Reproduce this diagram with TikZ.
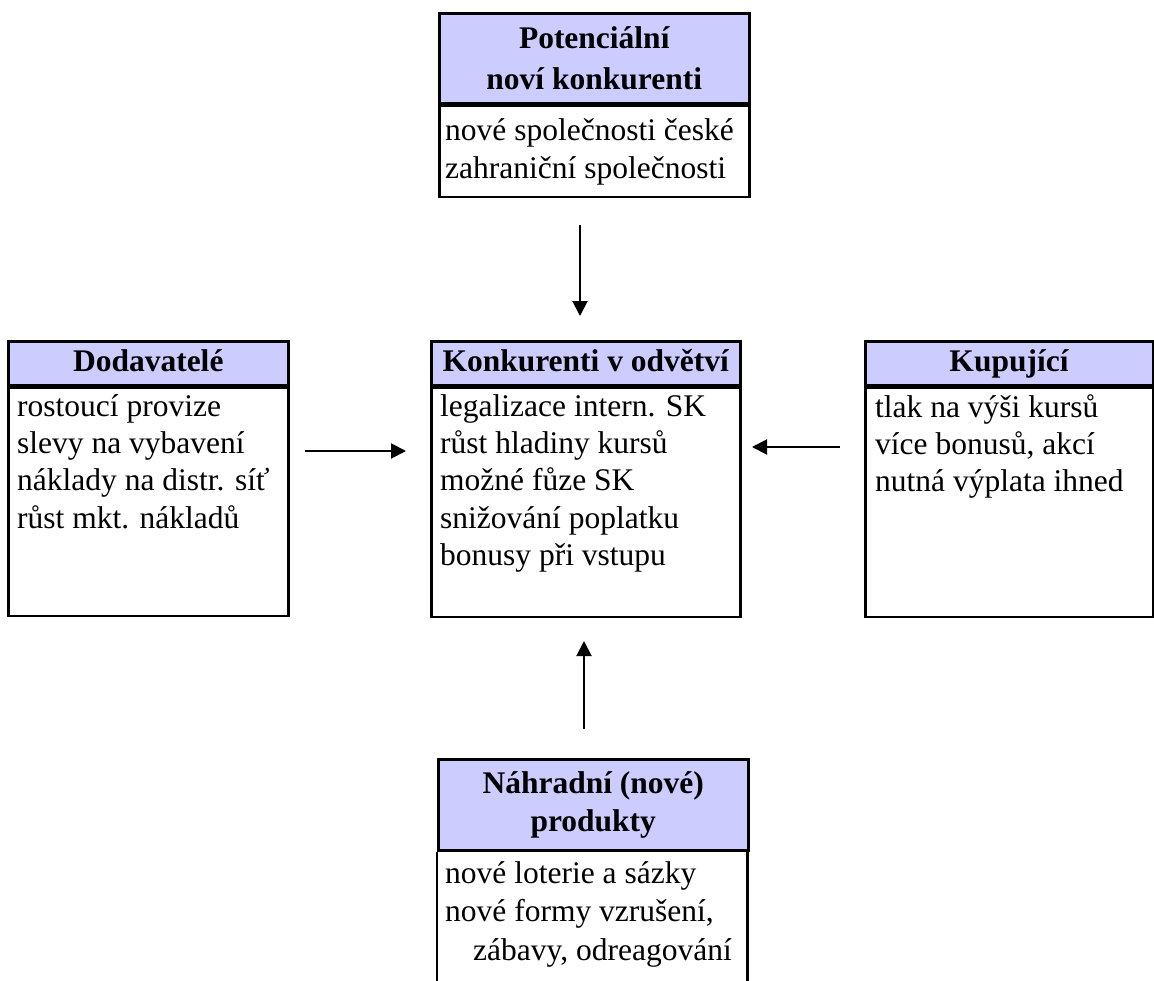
\documentclass[tikz,border=0pt]{standalone}
\usepackage{fontspec}
\setmainfont{Liberation Serif}
\usetikzlibrary{arrows.meta}
\definecolor{headblue}{RGB}{204,204,255}
\newcommand{\firstln}{\rule{0pt}{22pt}}
\begin{document}
\begin{tikzpicture}[x=1pt,y=-1pt,
  boxline/.style={line width=2.5pt},
  headbox/.style={draw, boxline, fill=headblue, anchor=north west, inner sep=0pt,
    align=center, font=\bfseries\fontsize{31.5}{40}\selectfont},
  onehead/.style={headbox, text height=21pt, text depth=4pt},
  bodybox/.style={draw, boxline, anchor=north west, inner sep=0pt},
  bodytext/.style={anchor=north west, inner sep=0pt, align=left,
    font=\fontsize{31.5}{37.3}\selectfont},
  arr/.style={line width=2pt, -{Triangle[length=15pt,width=15pt]}}]
\useasboundingbox (0,0) rectangle (1154,980);

% top box
\node[headbox, minimum width=310pt, minimum height=90pt, font=\bfseries\fontsize{31.5}{41}\selectfont] (topH) at (438,12) {Potenciální\\noví konkurenti};
\node[bodybox, minimum width=310pt, minimum height=91pt] (topB) at (topH.south west) {};
\node[bodytext, font=\fontsize{31.5}{38.5}\selectfont] (topT) at (445,118) {\firstln nové společnosti české\\zahraniční společnosti};

% left box
\node[onehead, minimum width=280pt, minimum height=44pt] (leftH) at (7,340) {Dodavatelé};
\node[bodybox, minimum width=280pt, minimum height=228pt] (leftB) at (leftH.south west) {};
\node[bodytext] (leftT) at (17,394) {\firstln rostoucí provize\\slevy na vybavení\\náklady na distr. síť\\růst mkt. nákladů};

% center box
\node[onehead, minimum width=309pt, minimum height=44pt] (cenH) at (430,340) {Konkurenti v odvětví};
\node[bodybox, minimum width=309pt, minimum height=229pt] (cenB) at (cenH.south west) {};
\node[bodytext] (cenT) at (440,394) {\firstln legalizace intern. SK\\růst hladiny kursů\\možné fůze SK\\snižování poplatku\\bonusy při vstupu};

% right box
\node[onehead, minimum width=287.5pt, minimum height=44pt] (rightH) at (864,340) {Kupující};
\node[bodybox, minimum width=287.5pt, minimum height=229pt] (rightB) at (rightH.south west) {};
\node[bodytext] (rightT) at (875,394) {\firstln tlak na výši kursů\\více bonusů, akcí\\nutná výplata ihned};

% bottom box
\node[headbox, minimum width=310pt, minimum height=91pt, font=\bfseries\fontsize{31.5}{38}\selectfont] (botH) at (437,758) {Náhradní (nové)\\produkty};
\node[anchor=north west, inner sep=0pt, minimum width=310pt, minimum height=131pt] (botB) at (botH.south west) {};
\draw[boxline] (botB.north west) -- (botB.south west);
\draw[boxline] (botB.north east) -- (botB.south east);
\node[bodytext, font=\fontsize{31.5}{38.5}\selectfont] (botT) at (445,861) {\firstln nové loterie a sázky\\nové formy vzrušení,\\\hspace*{28pt}zábavy, odreagování};

% arrows
\coordinate (a1s) at (580,225); \coordinate (a1e) at (580,316);
\coordinate (a2s) at (305,451); \coordinate (a2e) at (406,451);
\coordinate (a3s) at (840,447); \coordinate (a3e) at (752,447);
\coordinate (a4s) at (584,729); \coordinate (a4e) at (584,641);
\draw[arr] (a1s) -- (a1e);
\draw[arr] (a2s) -- (a2e);
\draw[arr] (a3s) -- (a3e);
\draw[arr] (a4s) -- (a4e);
\end{tikzpicture}
\end{document}
